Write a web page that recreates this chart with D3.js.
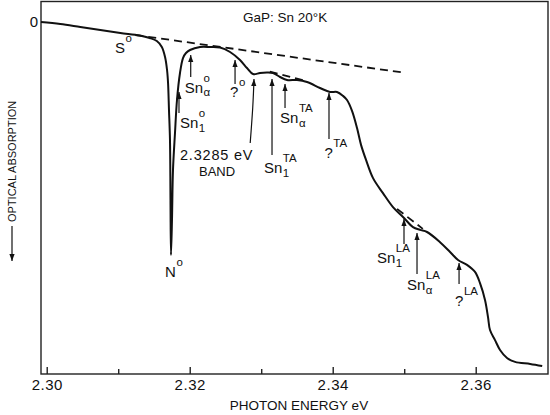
<!DOCTYPE html>
<html><head><meta charset="utf-8">
<script src="https://cdn.jsdelivr.net/npm/d3@7"></script>
<style>
body{margin:0;background:#fff}
svg{display:block}
text{font-family:"Liberation Sans",Arial,sans-serif;fill:#111}
</style>
</head><body>
<svg id="c" width="550" height="415"></svg>
<script>
// ---------------- data ----------------
const energy = [2.2992,2.3019,2.3047,2.3075,2.3103,2.3130,2.3144,2.3154,2.3161,2.31655,2.31683,2.31697,2.3171,2.31724,2.31731,2.31738,
  2.31752,2.31766,2.31794,2.31822,2.31864,2.31906,2.31948,2.32004,2.32144,2.32284,2.32424,2.32564,2.32703,2.32801,2.32885,
  2.32983,2.33081,2.33165,2.33263,2.33361,2.33501,2.33641,2.33822,2.33962,2.34060,2.34144,2.34200,2.34270,2.34340,2.34396,
  2.34466,2.34564,2.34703,2.34843,2.34983,2.35123,2.35221,2.35319,2.35501,2.35641,2.35753,2.35878,2.35990,2.36060,2.36130,
  2.36172,2.36200,2.36270,2.36340,2.36438,2.36550,2.36762,2.36930];
const absorption = [0,0.57,1.43,2.29,3.14,3.86,4.57,5.43,7.14,10.0,13.71,17.43,25.14,33.71,50.86,66.57,
  56.57,42.29,31.71,22.29,14.57,10.29,8.86,8.0,7.14,7.14,7.29,8.57,10.86,13.14,14.86,
  14.57,14.43,14.57,15.71,16.57,16.57,17.14,18.86,20.0,20.0,21.1,22.3,25.4,30.3,35.1,
  39.4,44.6,48.9,52.9,55.7,58.6,59.4,60.0,62.9,65.7,68.0,69.4,71.4,74.6,79.4,
  84.3,88.0,90.9,93.7,96.0,97.1,97.7,98.3];

// dashed extrapolated backgrounds
const baseDashE = [2.3124, 2.3497];
const baseDashA = [3.71, 14.4];
const taDashE = [2.3312, 2.3364];
const taDashA = [14.2, 16.9];
const laDashE = [2.3490, 2.3526];
const laDashA = [53.4, 59.1];

// x axis ticks
const majorTicks = [2.30, 2.32, 2.34, 2.36];
const majorLabels = ["2.30", "2.32", "2.34", "2.36"];
const minorTicks = [2.31, 2.33, 2.35];

// arrow annotations
const annBase   = ["Sn", "?", "Sn", "Sn", "Sn", "?", "Sn", "Sn", "?"];
const annSup    = ["o", "o", "o", "TA", "TA", "TA", "LA", "LA", "LA"];
const annSub    = ["α", "", "1", "1", "α", "", "1", "α", ""];
const annEnergy = [2.32014, 2.32634, 2.3185, 2.33151, 2.33333, 2.33948, 2.34997, 2.35179, 2.35767];
const annTip    = [9.43, 10.86, 20.0, 16.29, 17.71, 20.29, 56.29, 60.29, 68.86];
const annTail   = [15.71, 17.71, 26.0, 38.0, 24.57, 33.43, 63.43, 72.0, 74.86];

// point labels (no arrow)
const ptBase = ["S", "N"];
const ptSup = ["o", "o"];
const ptEnergy = [2.30956, 2.31655];
const ptA = [8.86, 72.86];

// band arrow
const bandE = [2.32846, 2.32881, 2.32899];
const bandA = [34.57, 24.57, 16.29];
const bandText = ["2.3285 eV", "BAND"];

const title = "GaP: Sn 20°K";
const xTitle = "PHOTON ENERGY eV";
const yTitle = "OPTICAL ABSORPTION";
const yZeroLabel = "0";

// ---------------- layout ----------------
const L = 41, R = 548, T = 1.5, B = 374;
const x = d3.scaleLinear().domain([2.2992, 2.37011]).range([L, R]);
const y = d3.scaleLinear().domain([-5.86, 100.57]).range([T, B]);

const svg = d3.select("#c");
const defs = svg.append("defs");
defs.append("marker").attr("id","ah").attr("viewBox","-7 -3 8 6")
  .attr("refX",0).attr("refY",0).attr("markerWidth",8).attr("markerHeight",6)
  .attr("markerUnits","userSpaceOnUse").attr("orient","auto")
  .append("path").attr("d","M0,0 L-7,-2.6 L-7,2.6 Z").attr("fill","#111");

// frame
svg.append("rect").attr("x",L).attr("y",T).attr("width",R-L).attr("height",B-T)
  .attr("fill","none").attr("stroke","#222").attr("stroke-width",1.4);

// axes
const gx = svg.append("g").attr("transform",`translate(0,${B})`);
gx.call(d3.axisBottom(x).tickValues(majorTicks).tickSize(-7).tickPadding(5)
  .tickFormat((d,i)=>majorLabels[i]));
gx.select(".domain").remove();
gx.selectAll(".tick line").attr("stroke","#222").attr("stroke-width",1.4);
gx.selectAll(".tick text").attr("font-size",15).attr("letter-spacing",0.5)
  .attr("font-family","Liberation Sans, Arial, sans-serif").attr("fill","#111");
const gm = svg.append("g").attr("transform",`translate(0,${B})`);
gm.call(d3.axisBottom(x).tickValues(minorTicks).tickSize(-5).tickFormat(""));
gm.select(".domain").remove();
gm.selectAll(".tick line").attr("stroke","#222").attr("stroke-width",1.4);

svg.append("text").attr("x",299).attr("y",410).attr("text-anchor","middle")
  .attr("font-size",13.5).text(xTitle);

// y zero label
svg.append("text").attr("x",L-3).attr("y",y(0)+5).attr("text-anchor","end")
  .attr("font-size",15).text(yZeroLabel);

// y title with arrow
svg.append("text").attr("transform","translate(16,222) rotate(-90)")
  .attr("font-size",11).text(yTitle);
svg.append("line").attr("x1",12).attr("x2",12).attr("y1",226).attr("y2",261)
  .attr("stroke","#111").attr("stroke-width",1.2).attr("marker-end","url(#ah)");

// title
svg.append("text").attr("x",243).attr("y",22).attr("font-size",13.5).text(title);

// dashed lines
const lineXY = d3.line().x(d=>x(d[0])).y(d=>y(d[1]));
[[baseDashE,baseDashA],[taDashE,taDashA],[laDashE,laDashA]].forEach(([e,a])=>{
  svg.append("path").attr("d",lineXY(e.map((v,i)=>[v,a[i]])))
    .attr("fill","none").attr("stroke","#111").attr("stroke-width",1.8)
    .attr("stroke-dasharray","8,5");
});

// main curve
svg.append("path")
  .attr("d", d3.line().x(d=>x(d[0])).y(d=>y(d[1])).curve(d3.curveCatmullRom.alpha(0.5))(energy.map((v,i)=>[v,absorption[i]])))
  .attr("fill","none").attr("stroke","#111").attr("stroke-width",2).attr("stroke-linejoin","round");

// label helper
function label(px, py, base, sup, sub) {
  const t = svg.append("text").attr("x",px).attr("y",py).attr("font-size",15).text(base);
  const w = t.node().getComputedTextLength();
  if (sup) svg.append("text").attr("x",px+w+0.5).attr("y",py-11).attr("font-size",11.5).text(sup);
  if (sub) svg.append("text").attr("x",px+w+0.5).attr("y",py+3.5).attr("font-size",11.5).text(sub);
}

// arrows
const annOffset = [[-6,16],[-5,13],[1,15],[-8,18],[-5,15],[-4.5,19],[-27,19],[-10,16],[-4,22]];
annEnergy.forEach((e,i)=>{
  const ax = x(e);
  svg.append("line").attr("x1",ax).attr("x2",ax).attr("y1",y(annTail[i])).attr("y2",y(annTip[i]))
    .attr("stroke","#111").attr("stroke-width",1.2).attr("marker-end","url(#ah)");
  label(ax+annOffset[i][0], y(annTail[i])+annOffset[i][1], annBase[i], annSup[i], annSub[i]);
});

// point labels
ptEnergy.forEach((e,i)=>label(x(e), y(ptA[i]), ptBase[i], ptSup[i], ""));

// band arrow
svg.append("path")
  .attr("d", d3.line().x(d=>x(d[0])).y(d=>y(d[1])).curve(d3.curveNatural)(bandE.map((v,i)=>[v,bandA[i]])))
  .attr("fill","none").attr("stroke","#111").attr("stroke-width",1.2).attr("marker-end","url(#ah)");
svg.append("text").attr("x",180).attr("y",160).attr("font-size",14.5).attr("letter-spacing",0.8).text(bandText[0]);
svg.append("text").attr("x",199).attr("y",176).attr("font-size",13).text(bandText[1]);
</script>
</body></html>
